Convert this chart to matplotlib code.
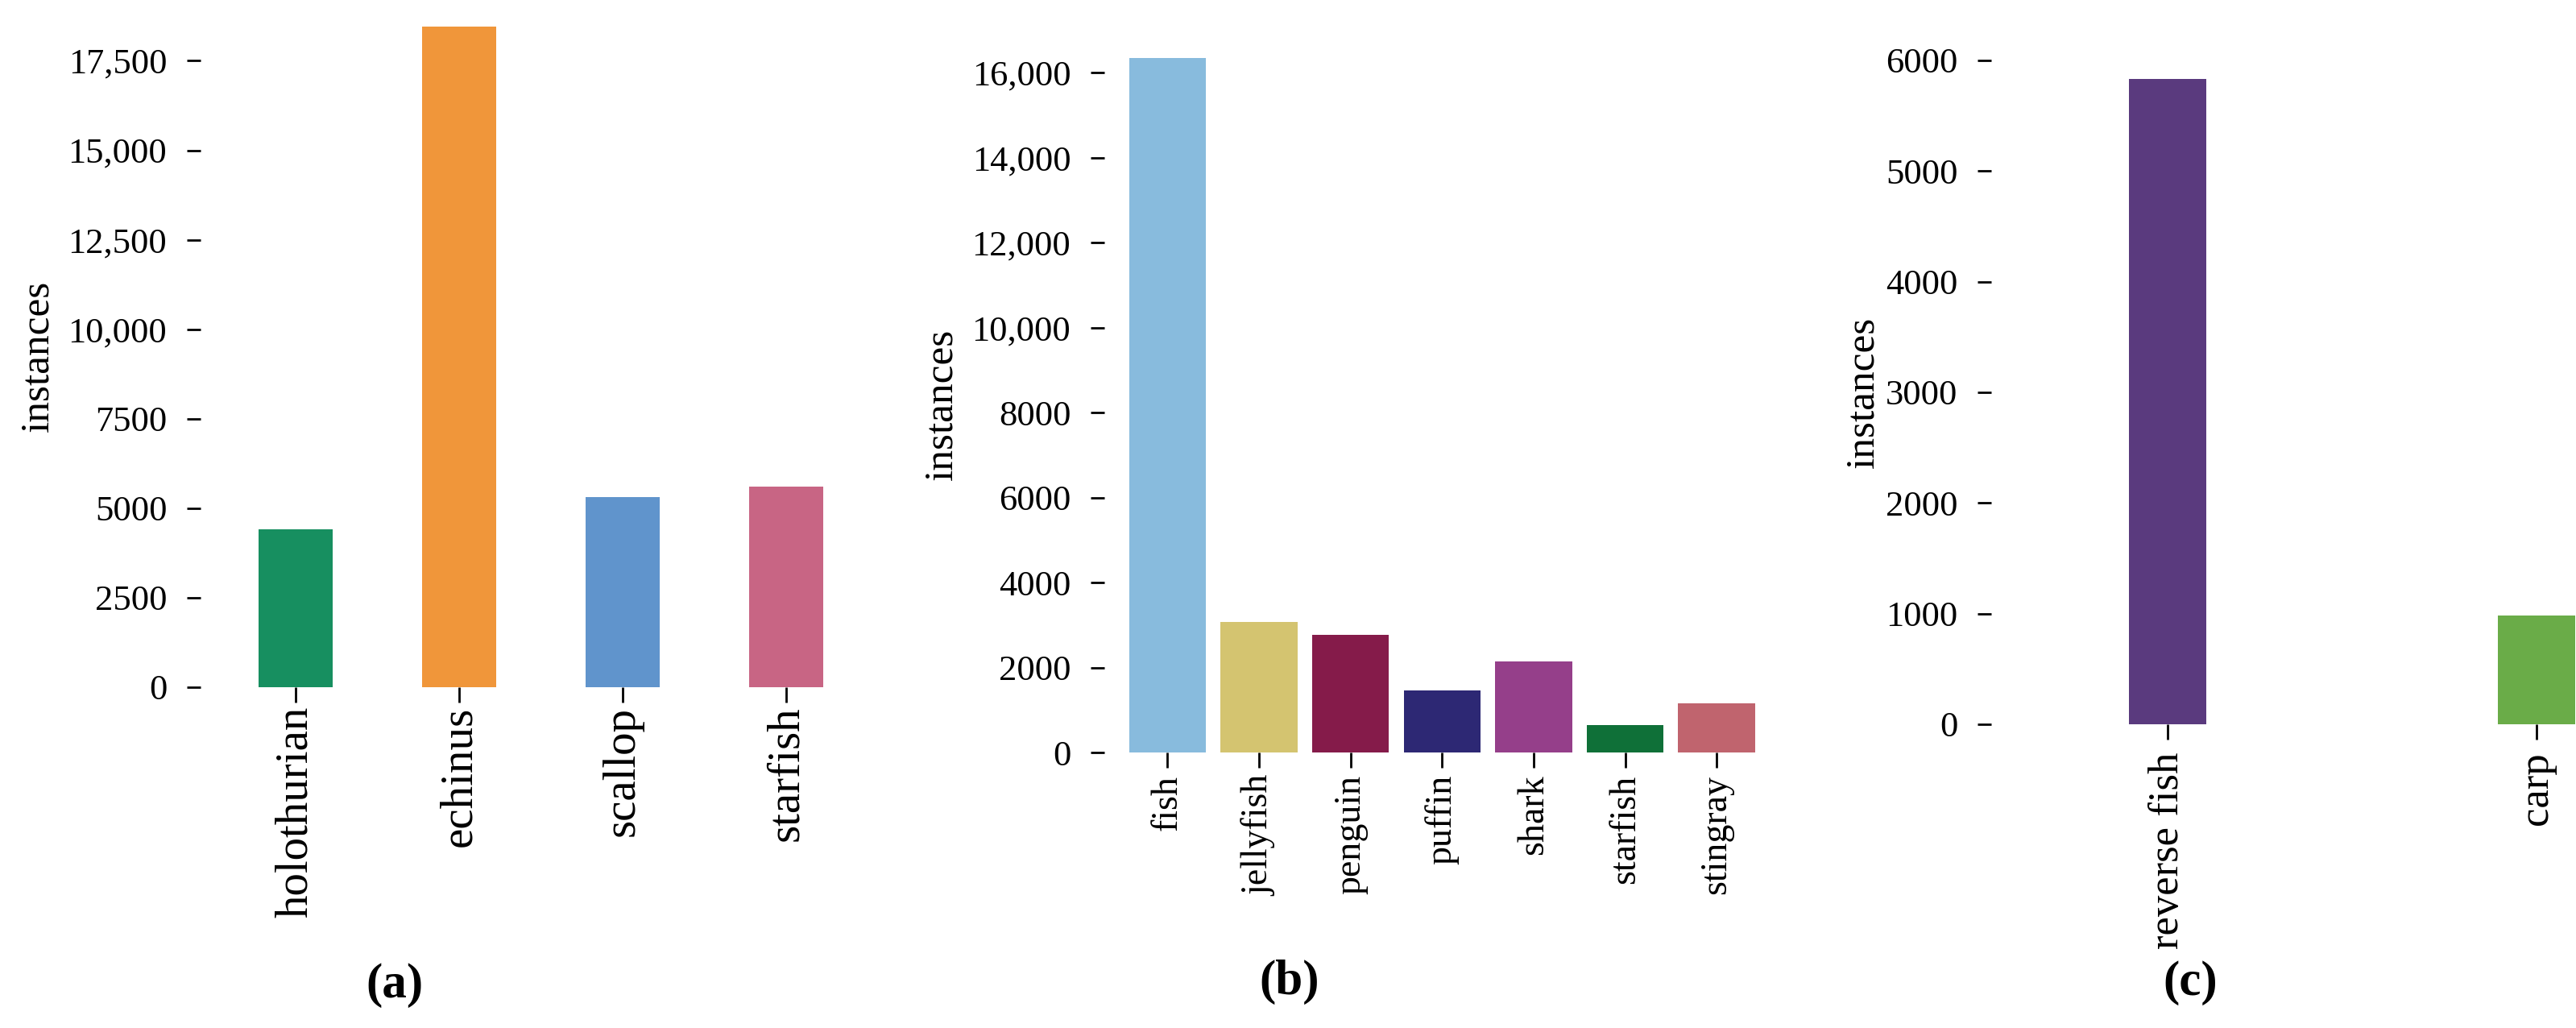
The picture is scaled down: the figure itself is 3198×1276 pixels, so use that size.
import numpy as np
import matplotlib
matplotlib.use("Agg")
import matplotlib.pyplot as plt
from matplotlib.ticker import FuncFormatter

plt.rcParams['font.family'] = ['Liberation Serif', 'DejaVu Serif']

# panel (a)
CATS_A = ['holothurian', 'echinus', 'scallop', 'starfish']
VALS_A = [4400, 18450, 5320, 5600]
COLS_A = ['#178f60', '#f0963a', '#6094cc', '#c86584']

# panel (b)
CATS_B = ['fish', 'jellyfish', 'penguin', 'puffin', 'shark', 'starfish', 'stingray']
VALS_B = [16350, 3070, 2770, 1456, 2150, 640, 1160]
COLS_B = ['#88bbdd', '#d4c470', '#851b4a', '#2d2874', '#953f8a', '#0f7038', '#c0646e']

# panel (c)
CATS_C = ['reverse fish', 'carp']
VALS_C = [5830, 985]
COLS_C = ['#5a3a7e', '#6aac48']


def fmt(v, pos):
    # thousands separator only for 5+ digit numbers
    if abs(v) >= 10000:
        return f"{v:,.0f}"
    return f"{v:.0f}"


def draw_panel(ax, cats, vals, cols, width, xlim, ylim, yticks, label_size, xpad, letter, ylab_x):
    x = np.arange(len(cats))
    ax.bar(x, vals, width=width, color=cols)
    ax.set_xlim(*xlim)
    ax.set_ylim(*ylim)
    ax.set_yticks(yticks)
    ax.yaxis.set_major_formatter(FuncFormatter(fmt))
    ax.set_xticks(x)
    ax.set_xticklabels(cats, rotation=90, fontsize=label_size)
    for s in ax.spines.values():
        s.set_visible(False)
    ax.tick_params(axis='y', labelsize=32, length=12, width=2, pad=18)
    ax.tick_params(axis='x', length=14, width=2, pad=xpad)
    ax.set_ylabel('instances', fontsize=37)
    ax.yaxis.set_label_coords(ylab_x, 0.5)
    ax.text(letter[1], letter[2], letter[0], transform=ax.transAxes, ha='center',
            va='center', fontsize=44, fontweight='bold')


fig = plt.figure(figsize=(31.98, 12.76), dpi=100)
W, H = 3198, 1276

# axes placed in pixel terms, converted to figure fractions
ax_a = fig.add_axes([249 / W, 1 - 853 / H, 845 / W, 822 / H])
ax_b = fig.add_axes([1371 / W, 1 - 934 / H, 817 / W, 865 / H])
ax_c = fig.add_axes([2472 / W, 1 - 899 / H, 727 / W, 824 / H])

draw_panel(ax_a, CATS_A, VALS_A, COLS_A, 0.45, (-0.58, 3.58), (0, 18500),
           np.arange(0, 17501, 2500), 41, 3,
           ('(a)', (490 - 249) / 845, -0.45), -179 / 845)
draw_panel(ax_b, CATS_B, VALS_B, COLS_B, 0.84, (-0.69, 6.5), (0, 16400),
           np.arange(0, 16001, 2000), 33, 6,
           ('(b)', (1601 - 1371) / 817, -0.33), -179 / 817)
draw_panel(ax_c, CATS_C, VALS_C, COLS_C, 0.21, (-0.48, 1.11), (0, 6000),
           np.arange(0, 6001, 1000), 38, 11,
           ('(c)', (2719 - 2472) / 727, -0.39), -136 / 727)

fig.savefig('out.png', dpi=100)
